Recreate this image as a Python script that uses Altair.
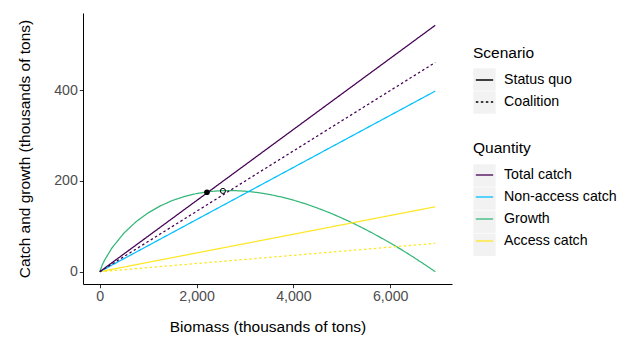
import altair as alt
import pandas as pd

# ---- data ----
line_biomass = [0, 6930]
total_status_quo = [0, 543]
total_coalition = [0, 461]
non_access = [0, 398]
access_status_quo = [0, 143]
access_coalition = [0, 62.5]

growth_biomass = [0, 50, 100, 250, 500, 750, 1000, 1250, 1500, 1750, 2000, 2250,
                  2500, 2750, 3000, 3250, 3500, 3750, 4000, 4250, 4500, 4750,
                  5000, 5250, 5500, 5750, 6000, 6250, 6500, 6750, 6930]
growth_value = [0, 14.4, 25.5, 52.1, 85.1, 110.2, 129.7, 145.0, 156.9, 165.8, 172.2,
                176.4, 178.6, 178.9, 177.5, 174.6, 170.3, 164.6, 157.7, 149.5,
                140.1, 129.8, 118.3, 105.9, 92.6, 78.3, 63.3, 47.4, 30.6, 13.1, 0]

eq_status_quo = (2214, 175)
eq_coalition = (2544, 178)

quantities = ["Total catch", "Non-access catch", "Growth", "Access catch"]
quantity_colors = ["#440154", "#00BFFF", "#35B779", "#FDE725"]
scenarios = ["Status quo", "Coalition"]

rows = []
def add(xs, ys, q, s):
    for x, y in zip(xs, ys):
        rows.append({"biomass": x, "value": y, "Quantity": q, "Scenario": s})

add(growth_biomass, growth_value, "Growth", "Status quo")
add(line_biomass, access_status_quo, "Access catch", "Status quo")
add(line_biomass, access_coalition, "Access catch", "Coalition")
add(line_biomass, non_access, "Non-access catch", "Status quo")
add(line_biomass, total_status_quo, "Total catch", "Status quo")
add(line_biomass, total_coalition, "Total catch", "Coalition")
lines_df = pd.DataFrame(rows)

pts_sq = pd.DataFrame({"biomass": [eq_status_quo[0]], "value": [eq_status_quo[1]]})
pts_co = pd.DataFrame({"biomass": [eq_coalition[0]], "value": [eq_coalition[1]]})

font = "Liberation Sans"
key_grey = "#f2f2f2"

xscale = alt.Scale(domain=[-346.5, 7276.5], nice=False, zero=False)
yscale = alt.Scale(domain=[-27.15, 570.15], nice=False, zero=False)

xaxis = alt.Axis(title="Biomass (thousands of tons)", values=[0, 2000, 4000, 6000],
                 format=",d", grid=False, titlePadding=16)
yaxis = alt.Axis(title="Catch and growth (thousands of tons)", values=[0, 200, 400],
                 grid=False, titlePadding=21)

common_legend = dict(
    orient="none", titleFontSize=15.5, titleFontWeight="normal", titleColor="black",
    titleFont=font, labelFont=font, labelFontSize=14.2, labelColor="black",
    symbolType="stroke", symbolSize=300, symbolStrokeWidth=1.3, rowPadding=5,
    titlePadding=9, labelOffset=10, symbolOffset=2,
)

# grey key backgrounds (legend-only layers, marks invisible)
key_legend = dict(
    orient="none", title="", titleFontSize=1, titlePadding=0,
    labelExpr="''", labelFontSize=1, labelOffset=0,
    symbolType="square", symbolSize=500, symbolStrokeWidth=0, symbolOpacity=1,
    rowPadding=0.1,
)

keys_q = alt.Chart(lines_df).transform_calculate(
    qkey="datum.Quantity + ' key'"
).mark_point(opacity=0, filled=True).encode(
    x=alt.X("biomass:Q", scale=xscale, axis=xaxis),
    y=alt.Y("value:Q", scale=yscale, axis=yaxis),
    color=alt.Color("qkey:N",
                    scale=alt.Scale(domain=[q + " key" for q in quantities],
                                    range=[key_grey] * 4),
                    legend=alt.Legend(legendX=390, legendY=151, **key_legend)),
)
keys_s = alt.Chart(lines_df).transform_calculate(
    skey="datum.Scenario + ' key'"
).mark_point(opacity=0, filled=True).encode(
    x=alt.X("biomass:Q", scale=xscale),
    y=alt.Y("value:Q", scale=yscale),
    fill=alt.Fill("skey:N",
                  scale=alt.Scale(domain=[s + " key" for s in scenarios],
                                  range=[key_grey] * 2),
                  legend=alt.Legend(legendX=390, legendY=55, **key_legend)),
)

lines = alt.Chart(lines_df).mark_line(strokeWidth=1.25).encode(
    x=alt.X("biomass:Q", scale=xscale, axis=xaxis),
    y=alt.Y("value:Q", scale=yscale, axis=yaxis),
    stroke=alt.Stroke("Quantity:N",
                      scale=alt.Scale(domain=quantities, range=quantity_colors),
                      legend=alt.Legend(legendX=390, legendY=128, **common_legend)),
    strokeDash=alt.StrokeDash("Scenario:N",
                              scale=alt.Scale(domain=scenarios, range=[[1, 0], [2.5, 2.5]]),
                              legend=alt.Legend(legendX=390, legendY=33,
                                                symbolStrokeColor="black", **common_legend)),
)

p1 = alt.Chart(pts_sq).mark_point(filled=True, color="black", size=32, opacity=1).encode(
    x=alt.X("biomass:Q", scale=xscale), y=alt.Y("value:Q", scale=yscale))
p2 = alt.Chart(pts_co).mark_point(filled=False, color="black", size=26, strokeWidth=1,
                                  opacity=1).encode(
    x=alt.X("biomass:Q", scale=xscale), y=alt.Y("value:Q", scale=yscale))

chart = alt.layer(keys_q, keys_s, lines, p1, p2).properties(
    width=369, height=271,
    autosize=alt.AutoSizeParams(type="none"),
    padding={"left": 75, "top": 5, "right": 167, "bottom": 52},
).configure_view(stroke=None).configure_axis(
    domainColor="black", domainWidth=1, tickColor="#333333", tickWidth=1, tickSize=3.7,
    labelColor="#4d4d4d", labelFont=font, labelFontSize=14.2, labelPadding=2,
    titleFont=font, titleFontSize=15.5, titleFontWeight="normal", titleColor="black",
)

chart.save("out.html", embed_options={"renderer": "svg", "actions": False})
